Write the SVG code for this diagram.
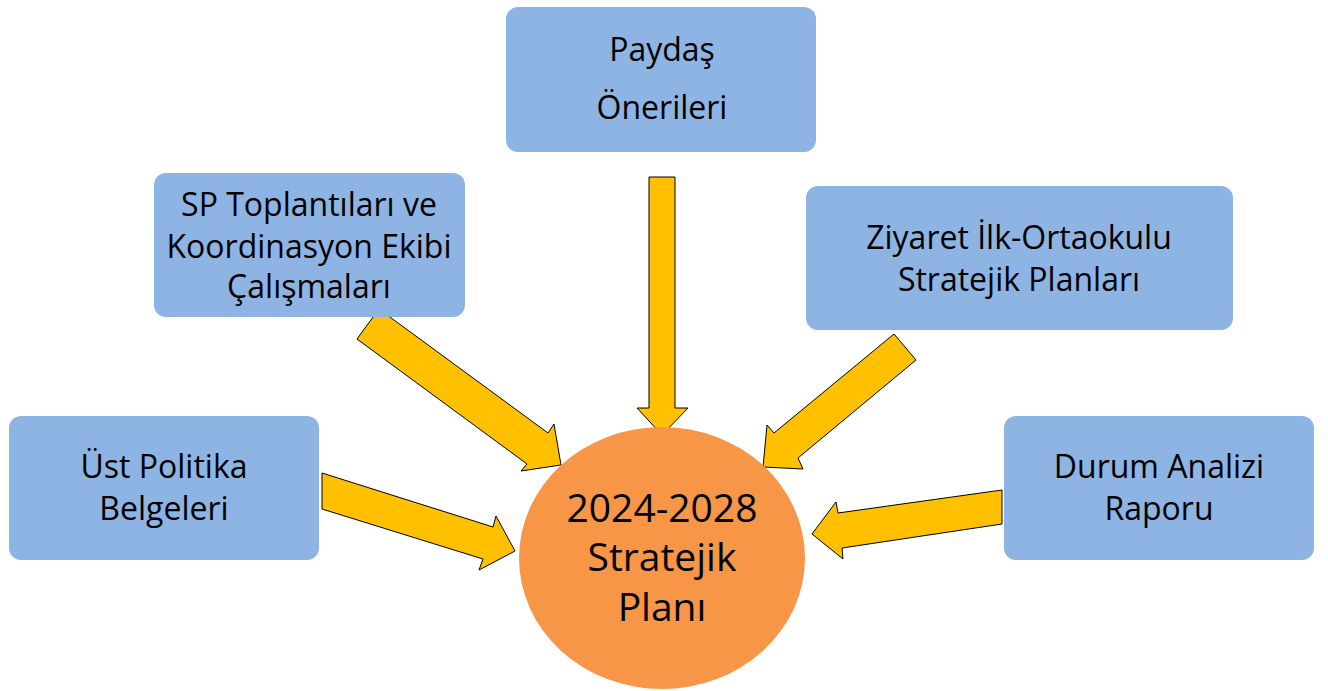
<svg xmlns="http://www.w3.org/2000/svg" width="1328" height="691" viewBox="0 0 1328 691">
<defs>
<style>
.box{fill:#8EB4E3;}
.arr{fill:#FFC000;stroke:#000;stroke-width:1;stroke-linejoin:miter;}
.t{font-family:"Open Sans","Liberation Sans",sans-serif;font-size:32px;fill:#000;text-anchor:middle;}
.c{font-family:"Open Sans","Liberation Sans",sans-serif;font-size:39px;fill:#000;text-anchor:middle;}
</style>
</defs>
<rect width="1328" height="691" fill="#fff"/>
<g id="connectors">
<polygon class="arr" points="322,473 493,527 496,516 515,551 479,570 483,559 322,509"/>
<polygon class="arr" points="357,339 379,309 548,433 554,424 561,465 521,471 527,464"/>
<polygon class="arr" points="649,177 675,177 675,408 688,408 662,435 637,408 649,408"/>
<polygon class="arr" points="894,334 916,360 798,458 803,469 763,467 767,425 774,433"/>
<polygon class="arr" points="1002,490 838,513 836,502 812,534 843,559 842,548 1002,524"/>
</g>
<g id="node-paydas">
<rect class="box" x="506" y="7" width="310" height="145" rx="12"/>
<text class="t" x="662" y="61">Paydaş</text>
<text class="t" x="662" y="119">Önerileri</text>
</g>
<g id="node-sp">
<rect class="box" x="154" y="173" width="311" height="144" rx="12"/>
<text class="t" x="309" y="216">SP Toplantıları ve</text>
<text class="t" x="309" y="258">Koordinasyon Ekibi</text>
<text class="t" x="309" y="298">Çalışmaları</text>
</g>
<g id="node-ziyaret">
<rect class="box" x="806" y="186" width="427" height="144" rx="12"/>
<text class="t" x="1019" y="249">Ziyaret İlk-Ortaokulu</text>
<text class="t" x="1019" y="291">Stratejik Planları</text>
</g>
<g id="node-ust">
<rect class="box" x="9" y="416" width="310" height="144" rx="12"/>
<text class="t" x="164" y="478">Üst Politika</text>
<text class="t" x="164" y="520">Belgeleri</text>
</g>
<g id="node-durum">
<rect class="box" x="1004" y="416" width="310" height="144" rx="12"/>
<text class="t" x="1159" y="478">Durum Analizi</text>
<text class="t" x="1159" y="520">Raporu</text>
</g>
<g id="node-plan">
<ellipse cx="662" cy="558" rx="143" ry="131" fill="#F79646"/>
<text class="c" x="662" y="522">2024-2028</text>
<text class="c" x="662" y="571">Stratejik</text>
<text class="c" x="662" y="621">Planı</text>
</g>
</svg>
